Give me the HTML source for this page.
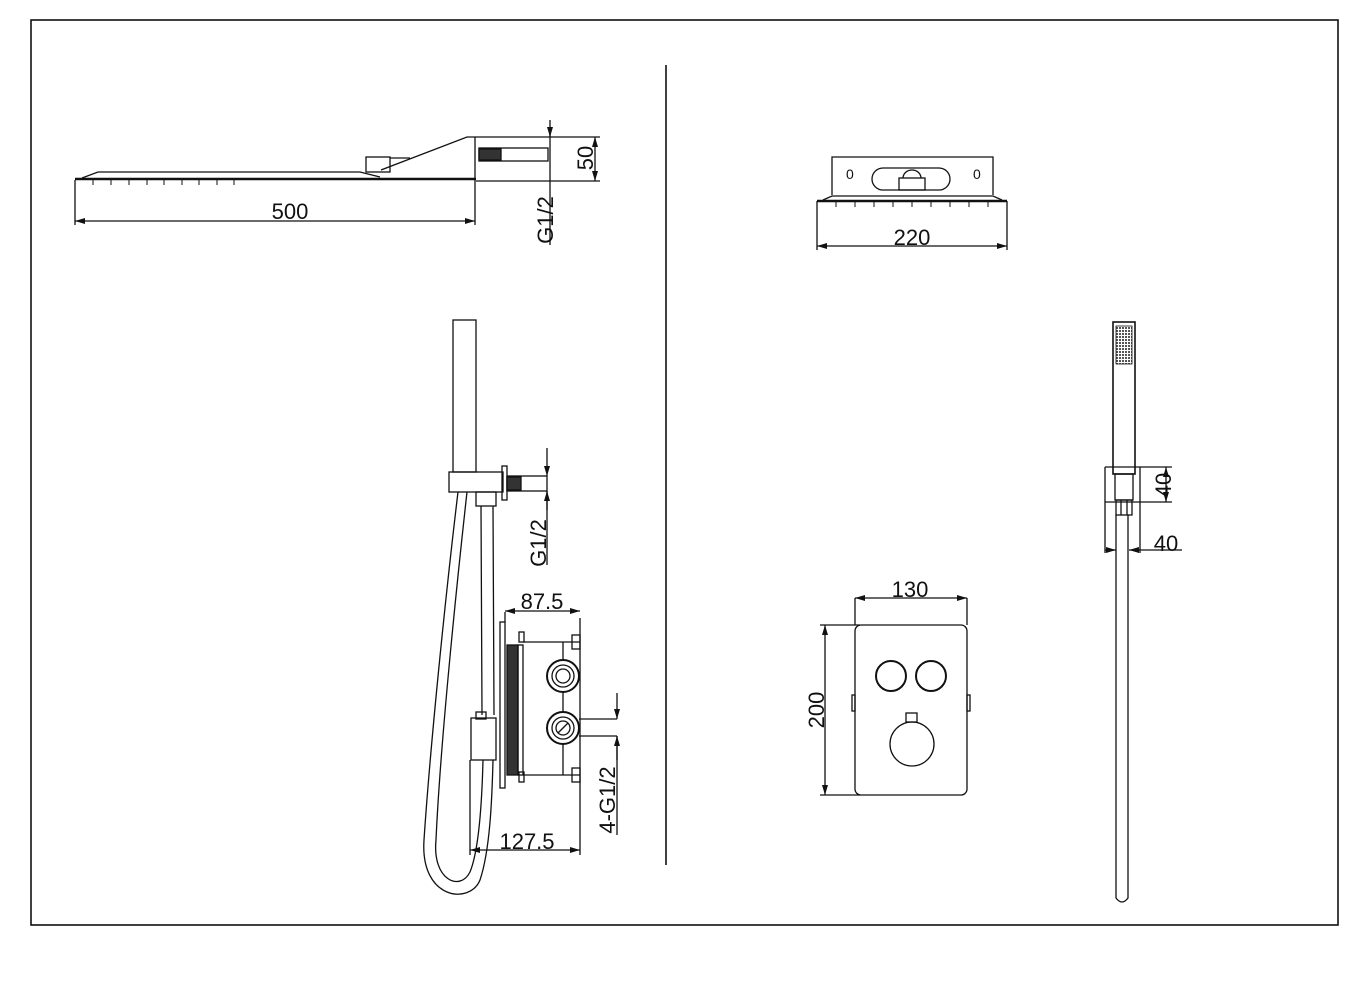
<!DOCTYPE html>
<html><head><meta charset="utf-8"><style>
html,body{margin:0;padding:0;background:#fff;}
svg{display:block;}
text{font-family:"Liberation Sans",sans-serif;fill:#111;}
</style></head><body>
<svg width="1361" height="1000" viewBox="0 0 1361 1000" xmlns="http://www.w3.org/2000/svg">
<defs>
<marker id="a" viewBox="0 0 10 6" refX="10" refY="3" markerWidth="10" markerHeight="6" orient="auto-start-reverse" markerUnits="userSpaceOnUse"><path d="M0,0 L10,3 L0,6" fill="#111"/></marker>
<pattern id="g" width="3" height="3" patternUnits="userSpaceOnUse"><rect width="2" height="2" fill="#555"/></pattern>
</defs>
<g fill="none" stroke="#111" stroke-width="1.3">
<rect x="31" y="20" width="1307" height="905" stroke-width="1.6"/>
<line x1="666" y1="65" x2="666" y2="865" stroke-width="1.6"/>

<line x1="75" y1="179" x2="476" y2="179" stroke-width="2.5"/>
<path d="M82,178 L98,172 L360,172 L380,177"/>
<path d="M381,170 L467,137 L555,137"/>
<rect x="366" y="157" width="24" height="15"/>
<line x1="390" y1="158" x2="410" y2="158"/>
<line x1="475" y1="137" x2="475" y2="180"/>
<line x1="476" y1="181" x2="600" y2="181"/>
<line x1="555" y1="137" x2="600" y2="137"/>
<rect x="479" y="148" width="69" height="13"/>
<rect x="479" y="149" width="22" height="11" fill="#333"/>
<g stroke-width="1">
<path d="M93,179 v6 M111,179 v6 M129,179 v6 M147,179 v6 M164,179 v6 M182,179 v6 M199,179 v6 M217,179 v6 M234,179 v6"/>
</g>
<line x1="550" y1="120" x2="550" y2="245"/>
<line x1="550" y1="130" x2="550" y2="137" marker-end="url(#a)"/>
<line x1="595" y1="137" x2="595" y2="181" marker-start="url(#a)" marker-end="url(#a)"/>
<line x1="75" y1="180" x2="75" y2="225"/>
<line x1="475" y1="180" x2="475" y2="225"/>
<line x1="75" y1="221" x2="475" y2="221" marker-start="url(#a)" marker-end="url(#a)"/>

<rect x="453" y="320" width="23" height="152"/>
<rect x="449" y="472" width="54" height="20"/>
<rect x="502" y="466" width="5" height="34"/>
<rect x="507" y="476" width="40" height="15"/>
<rect x="507" y="477" width="14" height="13" fill="#333"/>
<rect x="476" y="492" width="20" height="14"/>
<line x1="547" y1="448" x2="547" y2="476" marker-end="url(#a)"/>
<line x1="547" y1="510" x2="547" y2="491" marker-end="url(#a)"/>
<line x1="547" y1="491" x2="547" y2="565"/>
<path d="M458,492 C445,600 430,750 424,840 C420,900 470,905 480,880 C490,850 492,800 493,760"/>
<path d="M467,492 C455,600 440,750 436,840 C432,880 460,892 470,872 C479,850 482,800 483,760"/>
<path d="M481,506 L482,715 M493,506 L494,715"/>
<rect x="471" y="718" width="25" height="42"/>
<rect x="476" y="712" width="10" height="7"/>
<rect x="500" y="622" width="5" height="166"/>
<rect x="507" y="645" width="11" height="130" fill="#333"/>
<rect x="518" y="645" width="5" height="130"/>
<rect x="519" y="632" width="5" height="10"/>
<rect x="519" y="772" width="5" height="10"/>
<path d="M523,642 L580,642 M523,775 L580,775"/>
<rect x="572" y="635" width="8" height="14"/>
<rect x="572" y="768" width="8" height="14"/>
<line x1="563" y1="642" x2="563" y2="775"/>
<circle cx="563" cy="676" r="16" fill="#fff" stroke-width="2"/>
<circle cx="563" cy="676" r="11"/>
<circle cx="563" cy="676" r="7"/>
<circle cx="563" cy="728" r="16" fill="#fff" stroke-width="2"/>
<circle cx="563" cy="728" r="11"/>
<circle cx="563" cy="728" r="7"/>
<path d="M558,733 L568,723"/>
<line x1="580" y1="618" x2="580" y2="855"/>
<line x1="505" y1="612" x2="505" y2="622"/>
<line x1="505" y1="611" x2="580" y2="611" marker-start="url(#a)" marker-end="url(#a)"/>
<path d="M579,719 L617,719 M579,736 L617,736"/>
<line x1="617" y1="693" x2="617" y2="719" marker-end="url(#a)"/>
<line x1="617" y1="760" x2="617" y2="736" marker-end="url(#a)"/>
<line x1="617" y1="736" x2="617" y2="835"/>
<line x1="470" y1="760" x2="470" y2="855"/>
<line x1="470" y1="850" x2="580" y2="850" marker-start="url(#a)" marker-end="url(#a)"/>

<path d="M832,195 L832,157 L993,157 L993,195"/>
<rect x="872" y="168" width="78" height="22" rx="11"/>
<rect x="899" y="178" width="26" height="12"/>
<path d="M903,178 A9,8 0 0 1 921,178"/>
<line x1="817" y1="201" x2="1007" y2="201" stroke-width="2.5"/>
<path d="M823,200 L832,196 L993,196 L1002,200"/>
<g stroke-width="1"><path d="M836,202 v5 M855,202 v5 M874,202 v5 M893,202 v5 M912,202 v5 M931,202 v5 M950,202 v5 M969,202 v5 M988,202 v5"/></g>
<line x1="817" y1="201" x2="817" y2="250"/>
<line x1="1007" y1="201" x2="1007" y2="250"/>
<line x1="817" y1="246" x2="1007" y2="246" marker-start="url(#a)" marker-end="url(#a)"/>

<rect x="855" y="625" width="112" height="170" rx="6"/>
<circle cx="891" cy="676" r="15" stroke-width="2"/>
<circle cx="931" cy="676" r="15" stroke-width="2"/>
<circle cx="912" cy="744" r="22"/>
<rect x="906" y="713" width="11" height="9"/>
<rect x="852" y="695" width="3" height="16"/>
<rect x="967" y="695" width="3" height="16"/>
<line x1="855" y1="598" x2="855" y2="625"/>
<line x1="967" y1="598" x2="967" y2="625"/>
<line x1="855" y1="598" x2="967" y2="598" marker-start="url(#a)" marker-end="url(#a)"/>
<path d="M820,625 L860,625 M820,795 L860,795"/>
<line x1="825" y1="625" x2="825" y2="795" marker-start="url(#a)" marker-end="url(#a)"/>

<rect x="1113" y="322" width="22" height="152" stroke-width="1.6"/>
<rect x="1116" y="326" width="16" height="38" fill="url(#g)" stroke-width="0.8"/>
<path d="M1105,467 L1105,553 M1140,467 L1140,553"/>
<path d="M1105,467 L1172,467 M1105,502 L1172,502"/>
<rect x="1115" y="474" width="18" height="26"/>
<rect x="1116" y="500" width="16" height="15"/>
<line x1="1121" y1="500" x2="1121" y2="515"/><line x1="1127" y1="500" x2="1127" y2="515"/>
<line x1="1166" y1="467" x2="1166" y2="502" marker-start="url(#a)" marker-end="url(#a)"/>
<path d="M1116,515 L1116,898 Q1122,906 1128,898 L1128,515"/>
<line x1="1105" y1="550" x2="1116" y2="550" marker-end="url(#a)"/>
<line x1="1140" y1="550" x2="1129" y2="550" marker-end="url(#a)"/>
<line x1="1140" y1="550" x2="1182" y2="550"/>
</g>

<g font-size="22">
<text x="290" y="219" text-anchor="middle">500</text>
<text transform="translate(593,158) rotate(-90)" text-anchor="middle">50</text>
<text transform="translate(553,220) rotate(-90)" text-anchor="middle">G1/2</text>
<text transform="translate(546,543) rotate(-90)" text-anchor="middle">G1/2</text>
<text x="542" y="609" text-anchor="middle">87.5</text>
<text x="527" y="849" text-anchor="middle">127.5</text>
<text transform="translate(615,800) rotate(-90)" text-anchor="middle">4-G1/2</text>
<text x="912" y="245" text-anchor="middle">220</text>
<text x="910" y="597" text-anchor="middle">130</text>
<text transform="translate(824,710) rotate(-90)" text-anchor="middle">200</text>
<text transform="translate(1171,485) rotate(-90)" text-anchor="middle">40</text>
<text x="1166" y="551" text-anchor="middle">40</text>
<text x="846" y="179" font-size="14">0</text>
<text x="973" y="179" font-size="14">0</text>
</g>
</svg>
</body></html>
